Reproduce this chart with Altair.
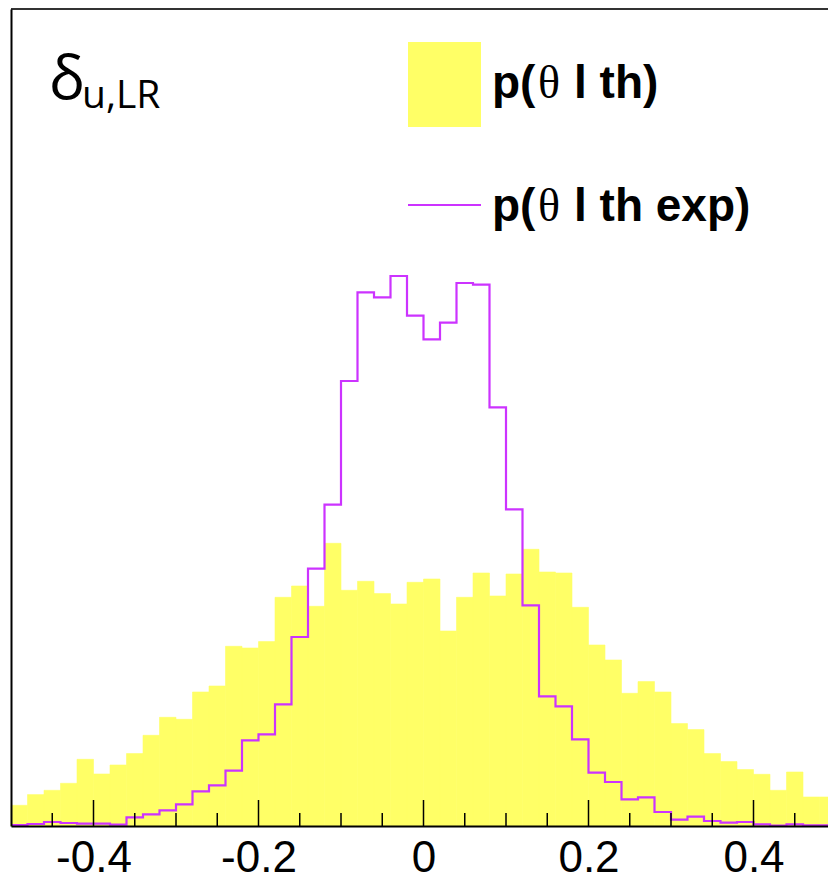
import altair as alt
import numpy as np
import pandas as pd

# histogram: 50 bins from -0.5 to 0.5 (heights in arbitrary units)
x_min, x_max, n_bins = -0.5, 0.5, 50
p_th = [20.7, 31.4, 35.7, 42.7, 66.7, 52, 61, 72.4, 90.7, 108.7,
        106.7, 134, 140, 179.7, 178, 184.4, 228.7, 240, 219.7, 282.7,
        235.7, 244.7, 232.4, 222, 243.7, 247, 195, 228.7, 253, 230,
        252, 276.7, 254, 253, 218.7, 181, 166, 132.7, 144.4, 134,
        102.4, 96.4, 72.4, 64.4, 56.4, 51.7, 35.7, 54, 29, 29]
p_th_exp = [1, 2, 4, 3, 2.4, 2.4, 1.4, 8.7, 11.7, 15.7,
            21.7, 34.7, 40.7, 55.4, 85.7, 91.7, 121.7, 189, 257.4, 321.4,
            445, 533.7, 528.7, 550, 510.4, 486.7, 503.4, 543, 541.4, 418.7,
            316.7, 220.7, 129.7, 119.7, 86.7, 53.4, 44, 26.7, 28.7, 14,
            6.4, 9.4, 5, 3.4, 4, 1.7, 0.4, 1.7, 0.7, 0.7]
major_ticks = [-0.4, -0.2, 0, 0.2, 0.4]
minor_ticks = [-0.45, -0.35, -0.3, -0.25, -0.15, -0.1, -0.05,
               0.05, 0.1, 0.15, 0.25, 0.3, 0.35, 0.45]
y_max = 817

edges = np.linspace(x_min, x_max, n_bins + 1)
bins = pd.DataFrame({"lo": edges[:-1], "hi": edges[1:], "th": p_th})
steps = pd.DataFrame({"x": edges, "v": p_th_exp + [p_th_exp[-1]]})

W, H = 825, 817
YELLOW = "#FFFF66"
MAGENTA = "#CC33FF"

xscale = alt.Scale(domain=[x_min, x_max], nice=False, zero=False)
yscale = alt.Scale(domain=[0, y_max], nice=False, zero=True)

xaxis = alt.Axis(values=major_ticks, labelExpr="datum.value == 0 ? '0' : toString(datum.value)",
                 ticks=False, tickSize=0, grid=False, domain=True, domainColor="black",
                 domainWidth=2, labelFontSize=44, labelFont="Liberation Sans", labelColor="black",
                 labelPadding=45, labelBaseline="alphabetic", labelFlush=False, title=None, zindex=1)
yaxis = alt.Axis(labels=False, ticks=False, grid=False, title=None, domain=True,
                 domainColor="black", domainWidth=2, zindex=1)

bars = alt.Chart(bins).mark_rect(color=YELLOW, opacity=1, stroke=YELLOW, strokeWidth=0.6).encode(
    x=alt.X("lo:Q", scale=xscale, axis=xaxis),
    x2="hi:Q",
    y=alt.Y("th:Q", scale=yscale, axis=yaxis),
    y2=alt.datum(0),
)

line = alt.Chart(steps).mark_line(color=MAGENTA, strokeWidth=2.2, interpolate="step-after").encode(
    x=alt.X("x:Q", scale=xscale, axis=xaxis),
    y=alt.Y("v:Q", scale=yscale, axis=yaxis),
)

major = alt.Chart(pd.DataFrame({"t": major_ticks})).mark_rule(color="black", strokeWidth=1.5).encode(
    x=alt.X("t:Q", scale=xscale, axis=xaxis), y=alt.value(H - 26), y2=alt.value(H))
minor = alt.Chart(pd.DataFrame({"t": minor_ticks})).mark_rule(color="black", strokeWidth=1.5).encode(
    x=alt.X("t:Q", scale=xscale, axis=xaxis), y=alt.value(H - 13), y2=alt.value(H))

one = alt.Data(values=[{}])
top_border = alt.Chart(one).mark_rule(color="#333333", strokeWidth=2).encode(
    x=alt.value(0), x2=alt.value(W), y=alt.value(0))

leg_box = alt.Chart(one).mark_rect(color=YELLOW).encode(
    x=alt.value(397), x2=alt.value(470), y=alt.value(33), y2=alt.value(118))
leg_line = alt.Chart(one).mark_rule(color=MAGENTA, strokeWidth=2.2).encode(
    x=alt.value(397), x2=alt.value(470), y=alt.value(196))


def txt(s, x, y, size, font, weight="normal"):
    return alt.Chart(one).mark_text(text=s, align="left", baseline="alphabetic", fontSize=size,
                                    font=font, fontWeight=weight, color="black").encode(
        x=alt.value(x), y=alt.value(y))


texts = [
    txt("δ", 38, 90, 60, "Open Sans"),
    txt("u,LR", 71, 99, 39, "Open Sans"),
    txt("p(", 481, 89, 46, "Liberation Sans", "bold"),
    txt("θ", 527, 89, 46, "Liberation Serif"),
    txt("l th)", 563, 89, 46, "Liberation Sans", "bold"),
    txt("p(", 481, 212, 46, "Liberation Sans", "bold"),
    txt("θ", 527, 212, 46, "Liberation Serif"),
    txt("l th exp)", 563, 212, 46, "Liberation Sans", "bold"),
]

chart = alt.layer(bars, line, major, minor, top_border, leg_box, leg_line, *texts).properties(
    width=W, height=H, autosize="none",
    padding={"left": 3, "top": 1, "right": -8, "bottom": 54},
    background="white",
).configure_view(stroke=None)

chart.save("out.html", embed_options={"renderer": "svg", "actions": False})
